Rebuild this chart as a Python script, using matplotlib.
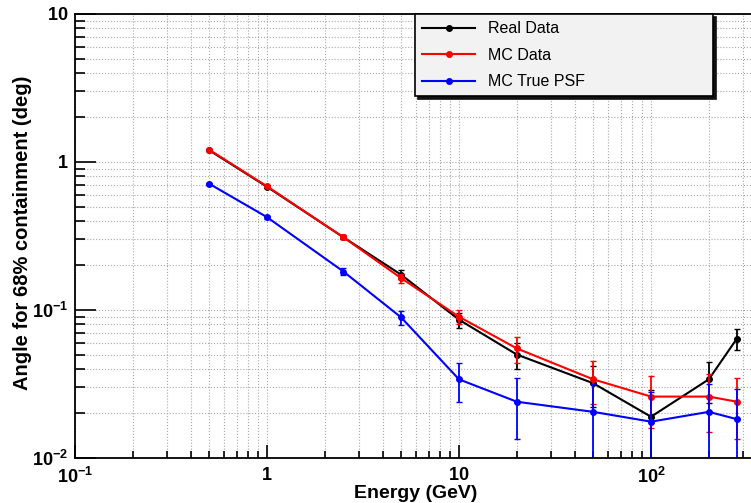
import numpy as np
import matplotlib.pyplot as plt
from matplotlib.ticker import FixedLocator, FixedFormatter, LogLocator, NullFormatter

plt.rcParams['font.family'] = ['Liberation Sans', 'DejaVu Sans']
plt.rcParams['mathtext.fontset'] = 'custom'
plt.rcParams['mathtext.bf'] = 'Liberation Sans:bold'
plt.rcParams['mathtext.rm'] = 'Liberation Sans:bold'

# energy bins (GeV)
energy = [0.5, 1, 2.5, 5, 10, 20, 50, 100, 200, 280]

real = [1.20, 0.68, 0.31, 0.173, 0.086, 0.050, 0.032, 0.019, 0.034, 0.064]
real_err = [0.01, 0.01, 0.01, 0.012, 0.010, 0.010, 0.010, 0.010, 0.0105, 0.0105]

mc = [1.21, 0.685, 0.31, 0.164, 0.090, 0.055, 0.034, 0.026, 0.026, 0.024]
mc_err = [0.01, 0.01, 0.01, 0.012, 0.010, 0.011, 0.011, 0.010, 0.011, 0.0105]

psf = [0.713, 0.424, 0.182, 0.089, 0.034, 0.024, 0.0205, 0.0176, 0.0205, 0.0183]
psf_err = [0.01, 0.01, 0.009, 0.010, 0.010, 0.0105, 0.0110, 0.0105, 0.0110, 0.0110]

series = [("Real Data", real, real_err, "black"),
          ("MC Data", mc, mc_err, "red"),
          ("MC True PSF", psf, psf_err, "blue")]

fig = plt.figure(figsize=(7.51, 5.03), dpi=100)
ax = fig.add_axes([75/751, 45/503, 680/751, 444/503])

for name, vals, errs, col in series:
    ax.errorbar(energy, vals, yerr=errs, fmt='none', ecolor=col, elinewidth=1.3,
                capsize=2, capthick=1)
    ax.plot(energy, vals, '-o', color=col, lw=1.5, ms=4, label=name)

ax.set_xscale('log')
ax.set_yscale('log')
ax.set_xlim(0.1, 10**(2 + 104/192))
ax.set_ylim(0.01, 10)

xt = [0.1, 1, 10, 100]
ax.xaxis.set_major_locator(FixedLocator(xt))
ax.xaxis.set_major_formatter(FixedFormatter([r'$\mathbf{10^{-1}}$', r'$\mathbf{1}$',
                                             r'$\mathbf{10}$', r'$\mathbf{10^{2}}$']))
yt = [0.01, 0.1, 1, 10]
ax.yaxis.set_major_locator(FixedLocator(yt))
ax.yaxis.set_major_formatter(FixedFormatter([r'$\mathbf{10^{-2}}$', r'$\mathbf{10^{-1}}$',
                                             r'$\mathbf{1}$', r'$\mathbf{10}$']))
for a in (ax.xaxis, ax.yaxis):
    a.set_minor_locator(LogLocator(base=10, subs=np.arange(2, 10), numticks=20))
    a.set_minor_formatter(NullFormatter())

ax.tick_params(axis='both', which='both', direction='in', labelsize=13, width=1.2)
ax.tick_params(axis='x', which='major', length=9.5, pad=6.5)
ax.tick_params(axis='x', which='minor', length=5)
ax.tick_params(axis='y', which='major', length=15, pad=5)
ax.tick_params(axis='y', which='minor', length=7)

ax.grid(True, which='both', linestyle=':', color='#a8a8a8', lw=0.8)
ax.set_axisbelow(True)
for s in ax.spines.values():
    s.set_linewidth(1.3)

fig.text(416/751, 1 - 493/503, 'Energy (GeV)', ha='center', va='center',
         fontsize=14, fontweight='bold')
fig.text(23/751, 1 - 233/503, 'Angle for 68% containment (deg)', ha='center',
         va='center', rotation=90, fontsize=14.5, fontweight='bold')

leg = ax.legend(loc='upper left', bbox_to_anchor=(340/680, 0, 298/680, 1.0),
                mode='expand', fontsize=11.5,
                frameon=True, fancybox=False, borderpad=0.45, labelspacing=0.72,
                handlelength=3.3, handletextpad=0.8, borderaxespad=0,
                shadow={'color': '#111111', 'alpha': 1})
leg.get_frame().set_facecolor('#f2f2f2')
leg.get_frame().set_edgecolor('black')
leg.get_frame().set_alpha(1)
leg.get_frame().set_linewidth(1.2)

fig.savefig('out.png', dpi=100)
